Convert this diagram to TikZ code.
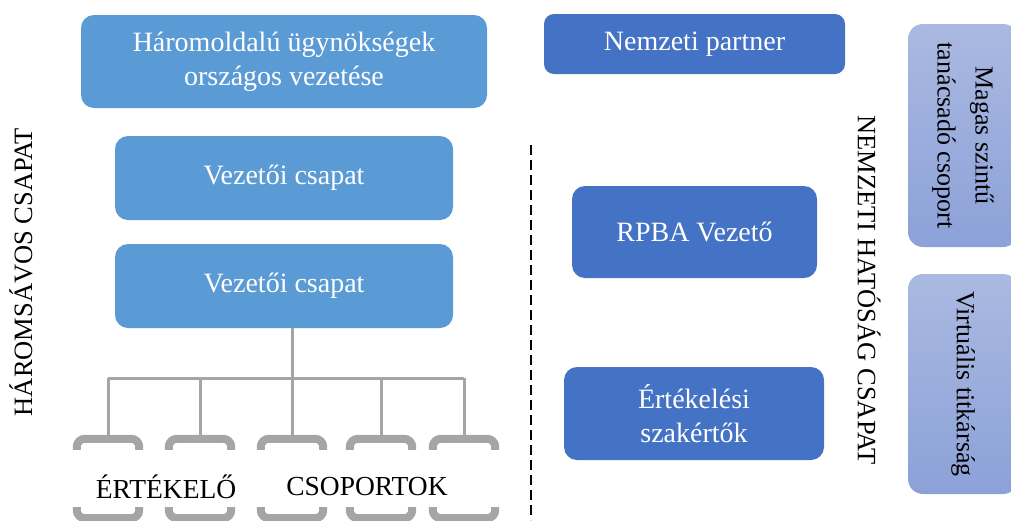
\documentclass[tikz,border=0pt]{standalone}
\usepackage{fontspec}
\setmainfont{Liberation Serif}
\definecolor{leftblue}{HTML}{5B9BD5}
\definecolor{rightblue}{HTML}{4472C4}
\definecolor{softtop}{HTML}{AAB9E1}
\definecolor{softbot}{HTML}{8CA1D8}
\definecolor{treegray}{HTML}{A5A5A5}
\begin{document}
\begin{tikzpicture}[x=1pt,y=-1pt,
    box/.style = {rounded corners=13pt,inner sep=0pt,align=center,text=white,
                  font=\fontsize{28}{34}\selectfont},
    softbox/.style = {rounded corners=15pt,inner sep=0pt,align=center,rotate=-90,
                  top color=softtop,bottom color=softbot,
                  font=\fontsize{26}{38}\selectfont},
    group/.style = {inner sep=0pt,minimum width=62,minimum height=79},
    tree/.style = {treegray,line width=3pt},
    bracket/.style = {treegray,line width=8pt,rounded corners=8pt},
    side/.style = {font=\fontsize{26.5}{30}\selectfont}]
    \useasboundingbox (0,0) rectangle (1011,520);
    \clip (0,0) rectangle (1011,520);

    % Left side
    \node [box,fill=leftblue,minimum width=406,minimum height=93] (lead) at (284,61.5)
        {Háromoldalú ügynökségek\\országos vezetése};
    \node [box,fill=leftblue,minimum width=338,minimum height=84] (team1) at (284,178) {Vezetői csapat};
    \node [box,fill=leftblue,minimum width=338,minimum height=84] (team2) at (284,286) {Vezetői csapat};

    \node [side,rotate=90] (three) at (21,272) {HÁROMSÁVOS CSAPAT};

    % Groups
    \node [group] (g1) at (108,478.5) {};
    \node [group] (g2) at (200,478.5) {};
    \node [group] (g3) at (292,478.5) {};
    \node [group] (g4) at (381,478.5) {};
    \node [group] (g5) at (464,478.5) {};

    \coordinate (bar) at (292,378);
    \draw [tree] (team2.south -| bar) -- (bar);
    \draw [tree] (g1.north |- bar) -- (g5.north |- bar);
    \foreach \g in {g1,g2,g3,g4,g5} {
        \draw [tree] (\g.north |- bar) -- (\g.north);
        \draw [bracket] ([yshift=-11pt]\g.north west) |- (\g.north) -| ([yshift=-11pt]\g.north east);
        \draw [bracket] ([yshift=11pt]\g.south west) |- (\g.south) -| ([yshift=11pt]\g.south east);
    }

    \node [font=\fontsize{27.5}{30}\selectfont] (eval) at (166,487) {ÉRTÉKELŐ};
    \node [font=\fontsize{27.5}{30}\selectfont] (groups) at (367,487) {CSOPORTOK};

    % Divider
    \coordinate (dtop) at (531,145);
    \coordinate (dbot) at (531,520);
    \draw [line width=2pt,dash pattern=on 10pt off 5pt] (dtop) -- (dbot);

    % Right side
    \node [box,fill=rightblue,minimum width=301,minimum height=60,rounded corners=10pt] (partner) at (694.5,44) {Nemzeti partner};
    \node [box,fill=rightblue,minimum width=245,minimum height=92] (rpba) at (694.5,232) {RPBA Vezető};
    \node [box,fill=rightblue,minimum width=260,minimum height=93] (experts) at (694,413.5)
        {Értékelési\\szakértők};

    \node [side,rotate=-90] (national) at (869,290) {NEMZETI HATÓSÁG CSAPAT};

    \node [softbox,minimum width=223,minimum height=110] (advisory) at (963,135.5)
        {Magas szintű\\tanácsadó csoport};
    \node [softbox,minimum width=220,minimum height=110] (secretariat) at (963,384)
        {Virtuális titkárság};
\end{tikzpicture}
\end{document}
